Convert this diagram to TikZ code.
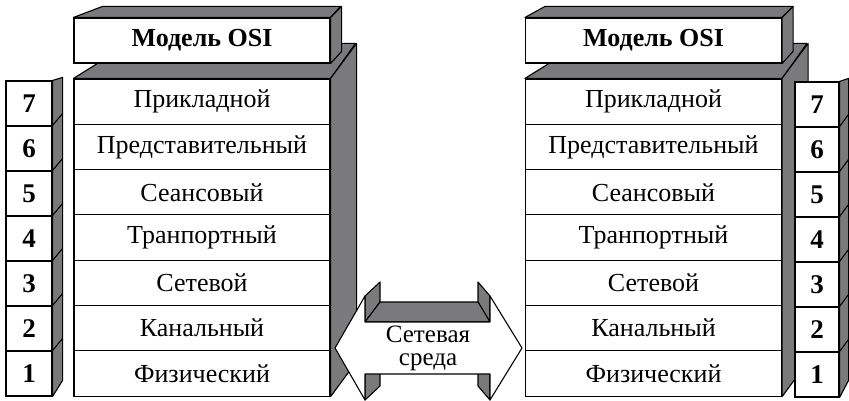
\documentclass[tikz,border=0pt]{standalone}
\usepackage{fontspec}
\setmainfont{Liberation Serif}
\usepackage{tikz}
\definecolor{facegray}{RGB}{122,122,125}

\begin{document}
\begin{tikzpicture}[x=1pt, y=-1pt,
		layer_style/.style={rectangle,draw=black,fill=white,line width=1.1pt,inner sep=0pt,
			minimum width=256pt,minimum height=45.3pt,font=\fontsize{26}{28}\selectfont},
		title_style/.style={layer_style,minimum height=45pt,font=\fontsize{26}{28}\selectfont\bfseries},
		num_style/.style={layer_style,minimum width=45pt,minimum height=45pt,font=\fontsize{27}{28}\selectfont\bfseries},
		face_style/.style={draw=black,fill=facegray,line width=1.1pt,line join=round}]
		
		\useasboundingbox (0,0) rectangle (849,401);
		
		% left stack
		\foreach \i/\t in {7/Прикладной,6/Представительный,5/Сеансовый,4/Транпортный,3/Сетевой,2/Канальный,1/Физический}
		    \node[layer_style] (l\i) at (202,{101.65+(7-\i)*45.3}) {\t};
		\node[title_style] (lt) at (202,40.5) {Модель OSI};
		\draw[face_style] (l7.north west) -- ++(56,-35) -- ++(226,0) -- (l7.north east) -- cycle;
		\draw[face_style] (l7.north east) -- ++(26,-35) -- ++(0,318) -- (l1.south east) -- cycle;
		\draw[face_style] (lt.north west) -- ++(29,-11) -- ++(238,0) -- (lt.north east) -- cycle;
		\draw[face_style] (lt.north east) -- ++(11,-11) -- ++(0,45) -- (lt.south east) -- cycle;
		\node[title_style] at (lt) {Модель OSI};
		
		% right stack
		\foreach \i/\t in {7/Прикладной,6/Представительный,5/Сеансовый,4/Транпортный,3/Сетевой,2/Канальный,1/Физический}
		    \node[layer_style] (r\i) at (653.5,{101.65+(7-\i)*45.3}) {\t};
		\node[title_style] (rt) at (653.5,40.5) {Модель OSI};
		\draw[face_style] (r7.north west) -- ++(56,-35) -- ++(226,0) -- (r7.north east) -- cycle;
		\draw[face_style] (r7.north east) -- ++(26,-35) -- ++(0,318) -- (r1.south east) -- cycle;
		\draw[face_style] (rt.north west) -- ++(20,-11) -- ++(248,0) -- (rt.north east) -- cycle;
		\draw[face_style] (rt.north east) -- ++(11,-11) -- ++(0,45) -- (rt.south east) -- cycle;
		\node[title_style] at (rt) {Модель OSI};
		
		% layer numbers
		\foreach \i in {1,...,7} {
		    \node[num_style,minimum width=46pt] (ln\i) at (29,{103.5+(7-\i)*45}) {\i};
		    \node[num_style,minimum width=44pt] (rn\i) at (817,{104.5+(7-\i)*45}) {\i};
		}
		\draw[face_style] (ln7.north east) -- ++(10,-3) -- ++(0,303) -- (ln1.south east) -- cycle;
		\draw[face_style] (rn7.north east) -- ++(9,-3) -- ++(0,302) -- (rn1.south east) -- cycle;
		\foreach \i in {1,...,6} {
		    \draw[line width=1.1pt] (ln\i.north east) -- ++(10,-12);
		    \draw[line width=1.1pt] (rn\i.north east) -- ++(9,-12);
		}
		
		% network medium
		\draw[face_style] (365,296) -- (380,282) -- (380,302) -- (365,322) -- cycle;
		\draw[face_style] (490,296) -- (478,282) -- (478,302) -- (490,322) -- cycle;
		\draw[face_style] (365,322) -- (380,302) -- (478,302) -- (490,322) -- cycle;
		\draw[face_style] (365,374) -- (380,360) -- (380,386) -- (365,400) -- cycle;
		\draw[face_style] (490,374) -- (478,360) -- (478,386) -- (490,400) -- cycle;
		\draw[draw=black,fill=white,line width=1.1pt,line join=round] (335,348) -- (365,296) -- (365,322) -- (490,322) -- (490,296) -- (522,348)
		    -- (490,400) -- (490,374) -- (365,374) -- (365,400) -- cycle;
		\node[align=center,font=\fontsize{25}{23}\selectfont] (medium) at (428,348) {Сетевая\\среда};
		
		\end{tikzpicture}
\end{document}
